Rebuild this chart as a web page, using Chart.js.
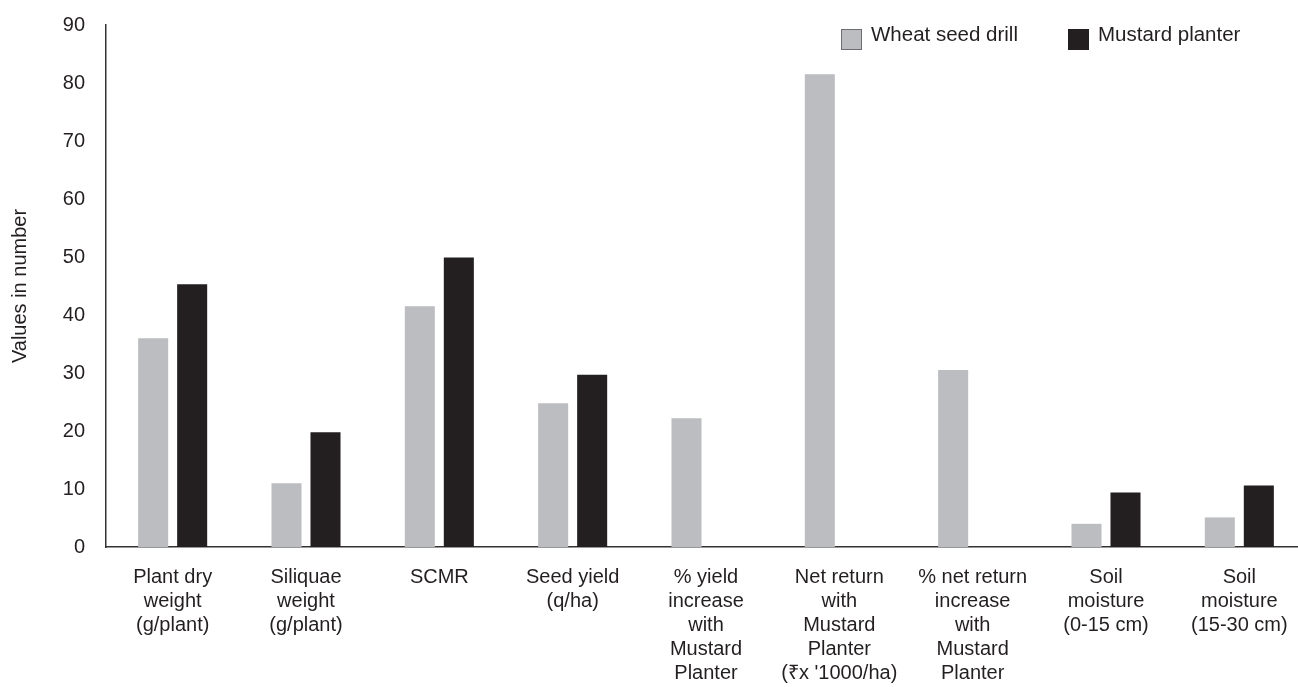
<!DOCTYPE html>
<html>
<head>
<meta charset="utf-8">
<script src="https://cdn.jsdelivr.net/npm/chart.js@4/dist/chart.umd.min.js"></script>
<style>
  html, body { margin: 0; padding: 0; background: #fff; overflow: hidden; }
  #wrap { position: relative; width: 1310px; height: 687px; }
  .legend { position: absolute; top: 24px; font: 20.5px "Liberation Sans", Arial, sans-serif; line-height: 20.5px; color: #231F20; white-space: nowrap; }
  .legend .box { position: absolute; top: 5px; width: 21px; height: 21px; box-sizing: border-box; }
</style>
</head>
<body>
<div id="wrap">
  <canvas id="myChart"></canvas>
  <div class="legend" style="left:841px">
    <span class="box" style="left:0;background:#BCBDC1;border:1px solid #6D6E71"></span>
    <span style="margin-left:30px">Wheat seed drill</span>
  </div>
  <div class="legend" style="left:1068px">
    <span class="box" style="left:0;background:#231F20"></span>
    <span style="margin-left:30px">Mustard planter</span>
  </div>
</div>
<script>
// categories (multi-line labels)
const categories = [
  ["Plant dry", "weight", "(g/plant)"],
  ["Siliquae", "weight", "(g/plant)"],
  "SCMR",
  ["Seed yield", "(q/ha)"],
  ["% yield", "increase", "with", "Mustard", "Planter"],
  ["Net return", "with", "Mustard", "Planter", "(₹x '1000/ha)"],
  ["% net return", "increase", "with", "Mustard", "Planter"],
  ["Soil", "moisture", "(0-15 cm)"],
  ["Soil", "moisture", "(15-30 cm)"]
];
const wheatSeedDrill = [36.0, 11.0, 41.5, 24.8, 22.2, 81.5, 30.5, 4.0, 5.1];
const mustardPlanter = [45.3, 19.8, 49.9, 29.7, null, null, null, 9.4, 10.6];
const yTicks = [0, 10, 20, 30, 40, 50, 60, 70, 80, 90];

const font = "'Liberation Sans', Arial, sans-serif";
const ink = "#231F20";

let ctx = document.getElementById("myChart").getContext("2d");
let chart = new Chart(ctx, {
  type: "bar",
  data: {
    labels: categories,
    datasets: [
      {
        label: "Wheat seed drill",
        data: wheatSeedDrill,
        backgroundColor: "#BCBDC1",
        borderWidth: 0
      },
      {
        label: "Mustard planter",
        data: mustardPlanter,
        backgroundColor: "#231F20",
        borderWidth: 0
      }
    ]
  },
  options: {
    responsive: true,
    maintainAspectRatio: false,
    animation: false,
    layout: { padding: { top: 25, right: 4, left: 0, bottom: 0 } },
    datasets: {
      bar: { categoryPercentage: 0.585, barPercentage: 0.77 }
    },
    plugins: {
      legend: { display: false },
      tooltip: { enabled: false }
    },
    scales: {
      x: {
        grid: { display: false, drawTicks: false },
        border: { display: true, color: "#333", width: 1.5 },
        ticks: {
          color: ink,
          padding: 19,
          maxRotation: 0,
          autoSkip: false,
          font: { family: font, size: 20, lineHeight: 1.19 }
        },
        afterFit: s => { s.height = 140; }
      },
      y: {
        min: 0,
        max: 90,
        afterBuildTicks: s => { s.ticks = yTicks.map(v => ({ value: v })); },
        grid: { display: false, drawTicks: false },
        border: { display: true, color: "#333", width: 1.5 },
        ticks: {
          color: ink,
          padding: 21,
          font: { family: font, size: 20 }
        },
        title: {
          display: true,
          text: "Values in number",
          color: ink,
          padding: { top: 8, bottom: 0 },
          font: { family: font, size: 20 }
        },
        afterFit: s => { s.width = 106; s.paddingTop = 0; s.paddingBottom = 0; }
      }
    }
  }
});
</script>
</body>
</html>
